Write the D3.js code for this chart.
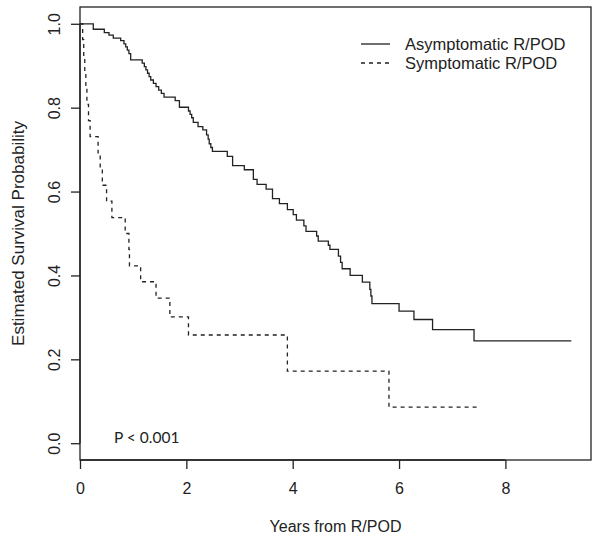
<!DOCTYPE html>
<html>
<head>
<meta charset="utf-8">
<script src="https://cdn.jsdelivr.net/npm/d3@7"></script>
<style>
  html, body { margin: 0; padding: 0; background: #fff; }
  svg { display: block; }
</style>
</head>
<body>
<div id="chart"></div>
<script>
// ---- Data ----
const seriesNames = ["Asymptomatic R/POD", "Symptomatic R/POD"];

const asymTimes = [0, 0.25, 0.457, 0.545, 0.626, 0.765, 0.827, 0.86, 0.89, 0.92, 0.953,
  1.17, 1.21, 1.24, 1.27, 1.30, 1.33, 1.38, 1.43, 1.48, 1.53, 1.58, 1.79, 1.87,
  2.04, 2.07, 2.10, 2.13, 2.22, 2.31, 2.38, 2.41, 2.43, 2.46, 2.49, 2.77, 2.87,
  3.09, 3.26, 3.33, 3.50, 3.62, 3.75, 3.90, 4.01, 4.07, 4.21, 4.25, 4.45, 4.48,
  4.67, 4.70, 4.86, 4.90, 4.93, 5.08, 5.31, 5.45, 5.47, 5.49, 6.00, 6.28, 6.63,
  7.41, 9.24];
const asymSurv = [1.0, 0.987, 0.979, 0.973, 0.966, 0.960, 0.952, 0.945, 0.937, 0.929, 0.914,
  0.906, 0.898, 0.890, 0.882, 0.874, 0.866, 0.858, 0.850, 0.842, 0.834, 0.825, 0.817, 0.801,
  0.792, 0.784, 0.776, 0.765, 0.755, 0.747, 0.735, 0.725, 0.714, 0.705, 0.696, 0.684, 0.662,
  0.652, 0.629, 0.617, 0.606, 0.583, 0.571, 0.557, 0.545, 0.532, 0.518, 0.505, 0.494, 0.482,
  0.472, 0.462, 0.446, 0.431, 0.416, 0.400, 0.384, 0.367, 0.351, 0.333, 0.315, 0.295, 0.271,
  0.244, 0.244];

const symTimes = [0, 0.05, 0.07, 0.09, 0.11, 0.13, 0.16, 0.19, 0.34, 0.38, 0.42, 0.50, 0.60,
  0.85, 0.92, 0.93, 1.14, 1.43, 1.69, 2.04, 3.90, 5.81, 7.49];
const symSurv = [1.0, 0.962, 0.923, 0.885, 0.846, 0.808, 0.769, 0.731, 0.692, 0.654, 0.615,
  0.577, 0.538, 0.500, 0.462, 0.423, 0.385, 0.346, 0.301, 0.258, 0.172, 0.086, 0.086];

const xTicks = [0, 2, 4, 6, 8];
const yTicks = [0, 0.2, 0.4, 0.6, 0.8, 1.0];
const xTitle = "Years from R/POD";
const yTitle = "Estimated Survival Probability";
const pText = "P < 0.001";

// ---- Layout ----
const W = 600, H = 540;
const box = { left: 80, right: 591, top: 7, bottom: 460 };
const xMax = 9.24 * 1.04;

const x = d3.scaleLinear().domain([0, xMax]).range([box.left, box.right]);
const y = d3.scaleLinear().domain([-0.04, 1.04]).range([box.bottom, box.top]);

const svg = d3.select("#chart").append("svg")
  .attr("width", W).attr("height", H)
  .style("font-family", "'Liberation Sans', Arial, Helvetica, sans-serif");

const ink = "#222";

// Curves
const line = d3.line()
  .x(d => x(d[0])).y(d => y(d[1]))
  .curve(d3.curveStepAfter);

const asymData = asymTimes.map((t, i) => [t, asymSurv[i]]);
const symData = symTimes.map((t, i) => [t, symSurv[i]]);

svg.append("path").datum(asymData)
  .attr("d", line).attr("fill", "none")
  .attr("stroke", ink).attr("stroke-width", 1.3);

svg.append("path").datum(symData)
  .attr("d", line).attr("fill", "none")
  .attr("stroke", ink).attr("stroke-width", 1.3)
  .attr("stroke-dasharray", "4,4");

// Box
svg.append("rect")
  .attr("x", box.left).attr("y", box.top)
  .attr("width", box.right - box.left).attr("height", box.bottom - box.top)
  .attr("fill", "none").attr("stroke", ink).attr("stroke-width", 1.3);

// Axes
const xAxis = d3.axisBottom(x).tickValues(xTicks).tickFormat(d3.format("d"))
  .tickSizeInner(9).tickSizeOuter(0).tickPadding(14);
const gx = svg.append("g").attr("transform", `translate(0,${box.bottom})`).call(xAxis);
gx.select(".domain").attr("d", `M${x(0)},0H${x(8)}`).attr("stroke", ink).attr("stroke-width", 1.3);
gx.selectAll(".tick line").attr("stroke", ink).attr("stroke-width", 1.3);
gx.selectAll(".tick text").attr("font-size", 16).attr("fill", ink)
  .attr("font-family", "'Liberation Sans', Arial, sans-serif");

const yAxis = d3.axisLeft(y).tickValues(yTicks).tickFormat(d3.format(".1f"))
  .tickSizeInner(9).tickSizeOuter(0).tickPadding(14);
const gy = svg.append("g").attr("transform", `translate(${box.left},0)`).call(yAxis);
gy.select(".domain").attr("d", `M0,${y(0)}V${y(1)}`).attr("stroke", ink).attr("stroke-width", 1.3);
gy.selectAll(".tick line").attr("stroke", ink).attr("stroke-width", 1.3);
gy.selectAll(".tick text")
  .attr("font-size", 16).attr("fill", ink)
  .attr("font-family", "'Liberation Sans', Arial, sans-serif")
  .attr("x", null).attr("dy", null)
  .attr("text-anchor", "middle")
  .attr("transform", "translate(-26,0) rotate(-90)")
  .attr("dominant-baseline", "central");

// Titles
svg.append("text")
  .attr("x", (box.left + box.right) / 2).attr("y", 526)
  .attr("text-anchor", "middle").attr("dominant-baseline", "central")
  .attr("font-size", 16).attr("fill", ink).text(xTitle);

svg.append("text")
  .attr("transform", `translate(18,${(box.top + box.bottom) / 2}) rotate(-90)`)
  .attr("text-anchor", "middle").attr("dominant-baseline", "central")
  .attr("font-size", 17).attr("fill", ink).text(yTitle);

// Legend
const legend = svg.append("g");
const legendRows = [
  { name: seriesNames[0], dash: null, yy: 44 },
  { name: seriesNames[1], dash: "4,4", yy: 63 }
];
legendRows.forEach(r => {
  legend.append("line")
    .attr("x1", 361).attr("x2", 390).attr("y1", r.yy).attr("y2", r.yy)
    .attr("stroke", ink).attr("stroke-width", 1.3)
    .attr("stroke-dasharray", r.dash);
  legend.append("text")
    .attr("x", 405).attr("y", r.yy).attr("dominant-baseline", "central")
    .attr("font-size", 16.5).attr("fill", ink).text(r.name);
});

// P-value annotation
svg.append("text")
  .attr("x", 114).attr("y", 437).attr("dominant-baseline", "central")
  .attr("font-family", "Lato, 'Open Sans', sans-serif")
  .attr("font-size", 15.5).attr("fill", ink).text(pText);
</script>
</body>
</html>
